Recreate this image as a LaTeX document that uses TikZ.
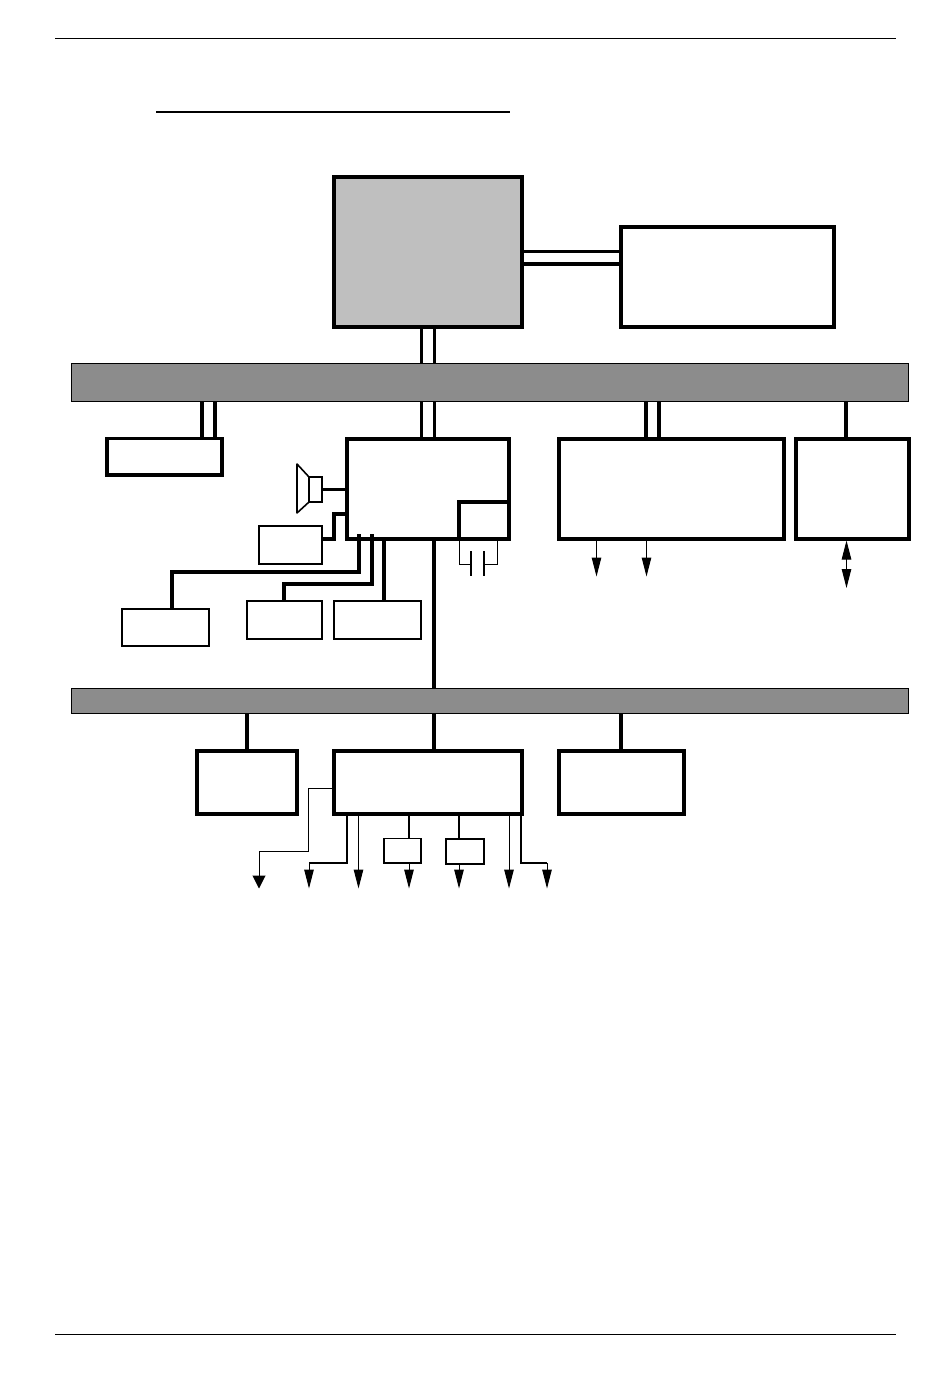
\documentclass[tikz,border=0pt]{standalone}
\usetikzlibrary{arrows.meta,calc}
\definecolor{cpugray}{HTML}{BFBFBF}
\definecolor{busgray}{HTML}{8C8C8C}
\tikzset{
  blk/.style={draw=black,rectangle,inner sep=0pt,outer sep=0pt,line width=4pt,fill=white,line join=miter},
  thinblk/.style={blk,line width=1.6pt},
  busbar/.style={blk,line width=1pt,fill=busgray},
  link/.style={line width=3.6pt,line cap=butt},
  midlink/.style={line width=3.6pt,line join=miter},
  wire/.style={line width=1pt,line join=miter},
  ahead/.style={-{Triangle[width=9.5pt,length=19pt]}},
  bighead/.style={-{Triangle[width=13pt,length=13pt]}},
}
% \bx[style]{name}{x1}{y1}{x2}{y2}
\newcommand{\bx}[6][blk]{%
  \pgfmathsetmacro{\bxw}{#5-#3}\pgfmathsetmacro{\bxh}{#6-#4}%
  \pgfmathsetmacro{\bxcx}{(#5+#3)/2}\pgfmathsetmacro{\bxcy}{(#6+#4)/2}%
  \node[#1,minimum width=\bxw pt,minimum height=\bxh pt] (#2) at (\bxcx,\bxcy) {};}
\begin{document}
\begin{tikzpicture}[x=1pt,y=-1pt]
\useasboundingbox (0,0) rectangle (950,1379);
\fill[white] (0,0) rectangle (950,1379);
% page rules and title rule
\coordinate (ruleTL) at (55,38.6); \coordinate (ruleTR) at (896,38.6);
\coordinate (ruleBL) at (55,1334.6); \coordinate (ruleBR) at (896,1334.6);
\coordinate (titleL) at (156,112); \coordinate (titleR) at (510,112);
\draw[line width=1pt] (ruleTL) -- (ruleTR);
\draw[line width=1pt] (ruleBL) -- (ruleBR);
\draw[line width=2pt] (titleL) -- (titleR);
% nodes
\bx[blk,fill=cpugray]{cpu}{334}{177}{522}{327}
\bx{mem}{621}{227}{834}{327}
\bx[busbar]{busA}{71.5}{363.5}{908.5}{401.5}
\bx[blk,line width=3.5pt]{left}{107}{438.5}{222}{475}
\bx{hub}{347}{438.5}{509}{539}
\bx{hubsub}{459}{501.5}{509}{539}
\bx{right}{559}{439}{784}{539}
\bx{far}{796}{439}{909}{539}
\bx[thinblk]{spk}{309}{477}{322}{502}
\bx[thinblk]{amp}{259}{526}{322}{564}
\bx[thinblk]{ba}{122}{609}{209}{646}
\bx[thinblk]{bb}{247}{601}{322}{639}
\bx[thinblk]{bc}{334}{601}{421}{639}
\bx[busbar]{busB}{71.5}{688.5}{908.5}{713.5}
\bx{sa}{197}{751}{297}{814}
\bx{sb}{334}{751}{522}{814}
\bx{sc}{559}{751}{684}{814}
\bx[blk,line width=1.2pt]{da}{384}{838.5}{421}{863}
\bx[blk,line width=2.2pt]{db}{446}{839}{484}{864}
% speaker cone
\coordinate (coneA) at (297,464); \coordinate (coneB) at (309,477);
\coordinate (coneC) at (309,502); \coordinate (coneD) at (297,513);
\draw[line width=1.6pt,line join=round] (coneB) -- (coneA) -- (coneD) -- (coneC);
% double links
\draw[link] (421.5,0 |- cpu.south) -- (421.5,0 |- busA.north);
\draw[link] (434.5,0 |- cpu.south) -- (434.5,0 |- busA.north);
\draw[line width=3pt] (cpu.east |- 0,251) -- (mem.west |- 0,251);
\draw[line width=3.4pt] (cpu.east |- 0,264) -- (mem.west |- 0,264);
\draw[link] (202,0 |- busA.south) -- (202,0 |- left.north);
\draw[link] (215,0 |- busA.south) -- (215,0 |- left.north);
\draw[link] (421.5,0 |- busA.south) -- (421.5,0 |- hub.north);
\draw[link] (434.5,0 |- busA.south) -- (434.5,0 |- hub.north);
\draw[link] (646,0 |- busA.south) -- (646,0 |- right.north);
\draw[link] (659,0 |- busA.south) -- (659,0 |- right.north);
\draw[link] (846,0 |- busA.south) -- (846,0 |- far.north);
% hub connections
\draw[midlink] (spk.east) -- (spk.east -| hub.west);
\draw[midlink] (amp.east |- 0,539) -| (334,514) -- (hub.west |- 0,514);
\coordinate (hubA) at (359,534); \coordinate (hubB) at (372,534);
\draw[midlink] (172,0 |- ba.north) |- (359,572) -- (hubA);
\draw[midlink] (284,0 |- bb.north) |- (372,584) -- (hubB);
\draw[midlink] (384,0 |- bc.north) -- (384,0 |- hub.south);
\draw[midlink] (434,0 |- hub.south) -- (434,0 |- busB.north);
% capacitor
\coordinate (capLt) at (471,551); \coordinate (capLb) at (471,576);
\coordinate (capRt) at (484,551); \coordinate (capRb) at (484,576);
\draw[wire] (459,0 |- hubsub.south) |- (471,564);
\draw[wire] (497,0 |- hubsub.south) |- (484,564);
\draw[line width=1.2pt] (capLt) -- (capLb);
\draw[line width=1.2pt] (capRt) -- (capRb);
% arrows under right boxes
\coordinate (ra) at (596.5,576.5); \coordinate (rb) at (646.5,576.5);
\coordinate (rd) at (846.5,588);
\draw[wire,ahead] (596.5,0 |- right.south) -- (ra);
\draw[wire,ahead] (646.5,0 |- right.south) -- (rb);
\draw[wire,{Triangle[width=9.5pt,length=19pt]}-{Triangle[width=9.5pt,length=19pt]}] (846.5,0 |- far.south) ++(0,1.5) -- (rd);
% lower bus links
\draw[midlink] (247,0 |- busB.south) -- (247,0 |- sa.north);
\draw[midlink] (434,0 |- busB.south) -- (434,0 |- sb.north);
\draw[midlink] (621,0 |- busB.south) -- (621,0 |- sc.north);
% arrows under south bridge
\coordinate (ea) at (259,888.5); \coordinate (eb) at (309,888.5);
\coordinate (ec) at (358.5,888.5); \coordinate (ed) at (409,888.5);
\coordinate (ee) at (459,888.5); \coordinate (ef) at (509,888.5);
\coordinate (eg) at (547,888.5);
\draw[wire,bighead] (sb.west |- 0,788.5) -| (308,851) -| (ea);
\draw[line width=2pt] (347,0 |- sb.south) |- (309,863);
\draw[wire,ahead] (309,863) -- (eb);
\draw[wire,ahead] (358.5,0 |- sb.south) -- (ec);
\draw[line width=2pt] (409,0 |- sb.south) -- (409,0 |- da.north);
\draw[wire,ahead] (409,0 |- da.south) -- (ed);
\draw[line width=2pt] (459,0 |- sb.south) -- (459,0 |- db.north);
\draw[wire,ahead] (459,0 |- db.south) -- (ee);
\draw[wire,ahead] (509,0 |- sb.south) -- (ef);
\draw[line width=2pt] (521,0 |- sb.south) |- (547,863);
\draw[wire,ahead] (547,863) -- (eg);
\end{tikzpicture}
\end{document}
